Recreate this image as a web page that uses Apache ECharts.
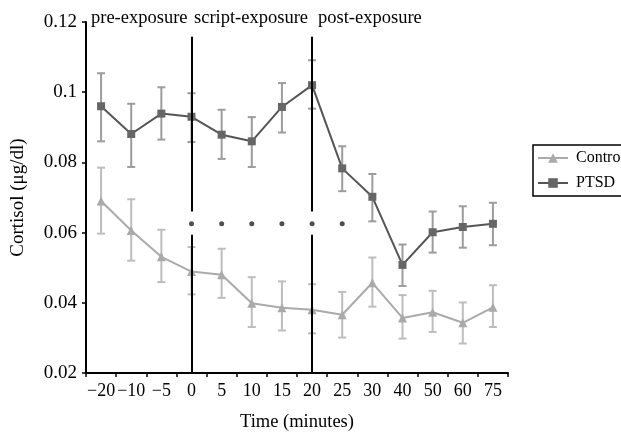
<!DOCTYPE html>
<html>
<head>
<meta charset="utf-8">
<script src="https://cdn.jsdelivr.net/npm/echarts@6/dist/echarts.min.js"></script>
<style>
html, body { margin: 0; padding: 0; background: #fff; }
#chart { width: 621px; height: 437px; }
</style>
</head>
<body>
<div id="chart"></div>
<script>
// 时间点 (分钟)
var categories = ['\u221220', '\u221210', '\u22125', '0', '5', '10', '15', '20', '25', '30', '40', '50', '60', '75'];

// PTSD 组均值与误差上下限
var ptsd      = [0.0960, 0.0881, 0.0939, 0.0930, 0.0879, 0.0860, 0.0958, 0.1020, 0.0783, 0.0702, 0.0508, 0.0601, 0.0616, 0.0625];
var ptsdHigh  = [0.1054, 0.0967, 0.1014, 0.0997, 0.0950, 0.0929, 0.1026, 0.1091, 0.0846, 0.0767, 0.0566, 0.0660, 0.0675, 0.0685];
var ptsdLow   = [0.0860, 0.0787, 0.0865, 0.0858, 0.0810, 0.0787, 0.0885, 0.0953, 0.0718, 0.0632, 0.0448, 0.0543, 0.0557, 0.0564];

// Control 组均值与误差上下限
var control     = [0.0690, 0.0606, 0.0531, 0.0489, 0.0480, 0.0399, 0.0386, 0.0380, 0.0366, 0.0457, 0.0357, 0.0373, 0.0343, 0.0387];
var controlHigh = [0.0785, 0.0695, 0.0608, 0.0559, 0.0554, 0.0473, 0.0461, 0.0453, 0.0431, 0.0529, 0.0422, 0.0434, 0.0401, 0.0450];
var controlLow  = [0.0597, 0.0520, 0.0459, 0.0424, 0.0414, 0.0331, 0.0321, 0.0313, 0.0301, 0.0389, 0.0298, 0.0317, 0.0284, 0.0331];

// 显著性星号
var sigCategories = ['0', '5', '10', '15', '20', '25'];
var sigLevel = 0.0625;

// 阶段分隔线和标签
var phaseLines = ['0', '20'];
var phaseLabels = ['pre-exposure', 'script-exposure', 'post-exposure'];

var serif = 'Liberation Serif';

function errData(low, high) {
	var out = [];
	for (var i = 0; i < low.length; i++) {
		out.push([i, low[i], high[i]]);
	}
	return out;
}

// 误差线: 竖线 + 上下横帽
function renderErr(color) {
	return function(params, api) {
		var lo = api.coord([api.value(0), api.value(1)]);
		var hi = api.coord([api.value(0), api.value(2)]);
		var cap = 4;
		var style = { stroke: color, lineWidth: 2 };
		return {
			type: 'group',
			children: [
				{ type: 'line', shape: { x1: lo[0], y1: lo[1], x2: hi[0], y2: hi[1] }, style: style },
				{ type: 'line', shape: { x1: lo[0] - cap, y1: lo[1], x2: lo[0] + cap, y2: lo[1] }, style: style },
				{ type: 'line', shape: { x1: hi[0] - cap, y1: hi[1], x2: hi[0] + cap, y2: hi[1] }, style: style }
			]
		};
	};
}

var lineSegs = [];
for (var k = 0; k < phaseLines.length; k++) {
	lineSegs.push([{ coord: [phaseLines[k], 0.1158] }, { coord: [phaseLines[k], 0.0660] }]);
	lineSegs.push([{ coord: [phaseLines[k], 0.0594] }, { coord: [phaseLines[k], 0.02] }]);
}

var sigData = [];
for (var s = 0; s < sigCategories.length; s++) {
	sigData.push([sigCategories[s], sigLevel]);
}

var myChart = echarts.init(document.getElementById('chart'));

var phaseFont = '18.5px "Liberation Serif"';

var option = {
	animation: false,
	backgroundColor: '#fff',
	textStyle: { fontFamily: serif, color: '#000' },
	grid: { left: 86, right: 113, top: 22, bottom: 58 },
	legend: {
		orient: 'vertical',
		left: 533,
		top: 145,
		padding: [5, 6, 5, 4],
		itemWidth: 30,
		itemHeight: 12,
		itemGap: 9,
		borderColor: '#000',
		borderWidth: 1.5,
		textStyle: { fontFamily: serif, fontSize: 16, color: '#000', padding: [0, 0, 0, 3] },
		data: ['Control', 'PTSD']
	},
	xAxis: {
		type: 'category',
		data: categories,
		boundaryGap: true,
		name: 'Time (minutes)',
		nameLocation: 'middle',
		nameGap: 40,
		nameTextStyle: { fontFamily: serif, fontSize: 18.5, color: '#000' },
		axisLine: { lineStyle: { color: '#000', width: 2 } },
		axisTick: { show: true, length: 4, lineStyle: { color: '#000', width: 1.5 } },
		axisLabel: { interval: 0, margin: 9, fontFamily: serif, fontSize: 18, color: '#000' },
		splitLine: { show: false }
	},
	yAxis: {
		type: 'value',
		min: 0.02,
		max: 0.12,
		interval: 0.02,
		name: 'Cortisol (\u03bcg/dl)',
		nameLocation: 'middle',
		nameGap: 58,
		nameTextStyle: { fontFamily: serif, fontSize: 19, color: '#000' },
		axisLine: { show: true, lineStyle: { color: '#000', width: 2 } },
		axisTick: { show: true, length: 4, lineStyle: { color: '#000', width: 1.5 } },
		axisLabel: {
			margin: 9,
			fontFamily: serif,
			fontSize: 19,
			color: '#000',
			formatter: function(v) { return String(+v.toFixed(2)); }
		},
		splitLine: { show: false }
	},
	graphic: [
		{ type: 'text', left: 91, top: 9, style: { text: phaseLabels[0], font: phaseFont, fill: '#000' } },
		{ type: 'text', left: 194, top: 9, style: { text: phaseLabels[1], font: phaseFont, fill: '#000' } },
		{ type: 'text', left: 318, top: 9, style: { text: phaseLabels[2], font: phaseFont, fill: '#000' } }
	],
	series: [
		{
			name: 'ControlErr',
			type: 'custom',
			renderItem: renderErr('#bdbdbd'),
			data: errData(controlLow, controlHigh),
			z: 1,
			silent: true
		},
		{
			name: 'PTSDErr',
			type: 'custom',
			renderItem: renderErr('#9c9c9c'),
			data: errData(ptsdLow, ptsdHigh),
			z: 1,
			silent: true
		},
		{
			name: 'Control',
			type: 'line',
			data: control,
			symbol: 'triangle',
			symbolSize: 9,
			itemStyle: { color: '#aaaaaa' },
			lineStyle: { color: '#aaaaaa', width: 2 },
			z: 3
		},
		{
			name: 'PTSD',
			type: 'line',
			data: ptsd,
			symbol: 'rect',
			symbolSize: 8,
			itemStyle: { color: '#666666' },
			lineStyle: { color: '#555555', width: 2 },
			z: 4,
			markLine: {
				silent: true,
				symbol: 'none',
				label: { show: false },
				lineStyle: { color: '#000', width: 2, type: 'solid' },
				data: lineSegs
			}
		},
		{
			// 星号: 小黑点
			name: 'sig',
			type: 'scatter',
			data: sigData,
			symbol: 'circle',
			symbolSize: 5,
			itemStyle: { color: '#222' },
			z: 5,
			silent: true
		}
	]
};

myChart.setOption(option);
</script>
</body>
</html>
